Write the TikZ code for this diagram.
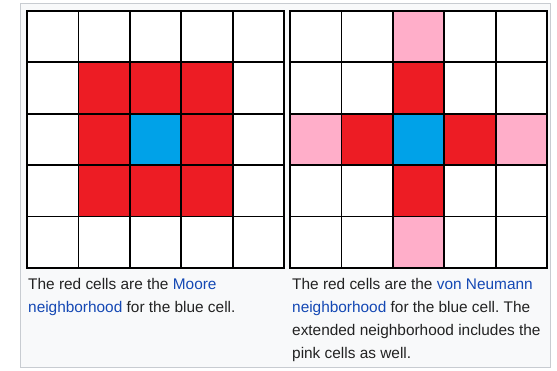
\documentclass[tikz,border=0pt]{standalone}
\usepackage{fontspec}
\setmainfont{Liberation Sans}
\frenchspacing
\definecolor{cellred}{RGB}{237,28,36}
\definecolor{cellblue}{RGB}{0,162,232}
\definecolor{cellpink}{RGB}{255,174,201}
\definecolor{linkblue}{RGB}{20,72,180}
\definecolor{captiongray}{RGB}{34,34,34}
\definecolor{framegray}{RGB}{200,204,209}
\definecolor{panelbg}{RGB}{248,249,250}
\newcommand{\cellsize}{51.4}
\newcommand{\gridcell}[3]{\draw[cellline,fill=#3] ({#1*\cellsize},{#2*\cellsize}) rectangle +(\cellsize,\cellsize);}
\newcommand{\wlink}[1]{{\color{linkblue}#1}}
\begin{document}
\begin{tikzpicture}[x=1pt,y=-1pt,
  cellline/.style={black,line width=1.8pt},
  capnode/.style={anchor=north west,inner sep=0pt,align=left,text=captiongray,font=\fontsize{15.4}{23}\selectfont}]
\useasboundingbox (0,0) rectangle (557,371);
\draw[framegray,fill=panelbg] (20,3) rectangle (550,367);
\begin{scope}[shift={(27,11)}]
\foreach \i in {0,...,4} {
  \foreach \j in {0,...,4} {\gridcell{\i}{\j}{white}}
}
\foreach \i in {1,2,3} {
  \foreach \j in {1,2,3} {\gridcell{\i}{\j}{cellred}}
}
\gridcell{2}{2}{cellblue}
\end{scope}
\node[capnode] (moorecap) at (28,278) {The red cells are the \wlink{Moore}\\ \wlink{neighborhood} for the blue cell.};
\begin{scope}[shift={(290,11)}]
\foreach \i in {0,...,4} {
  \foreach \j in {0,...,4} {\gridcell{\i}{\j}{white}}
}
\foreach \i/\j in {2/1,1/2,3/2,2/3} {\gridcell{\i}{\j}{cellred}}
\foreach \i/\j in {2/0,0/2,4/2,2/4} {\gridcell{\i}{\j}{cellpink}}
\gridcell{2}{2}{cellblue}
\end{scope}
\node[capnode] (neumanncap) at (292,278) {The red cells are the \wlink{von Neumann}\\ \wlink{neighborhood} for the blue cell. The\\ extended neighborhood includes the\\ pink cells as well.};
\end{tikzpicture}
\end{document}
